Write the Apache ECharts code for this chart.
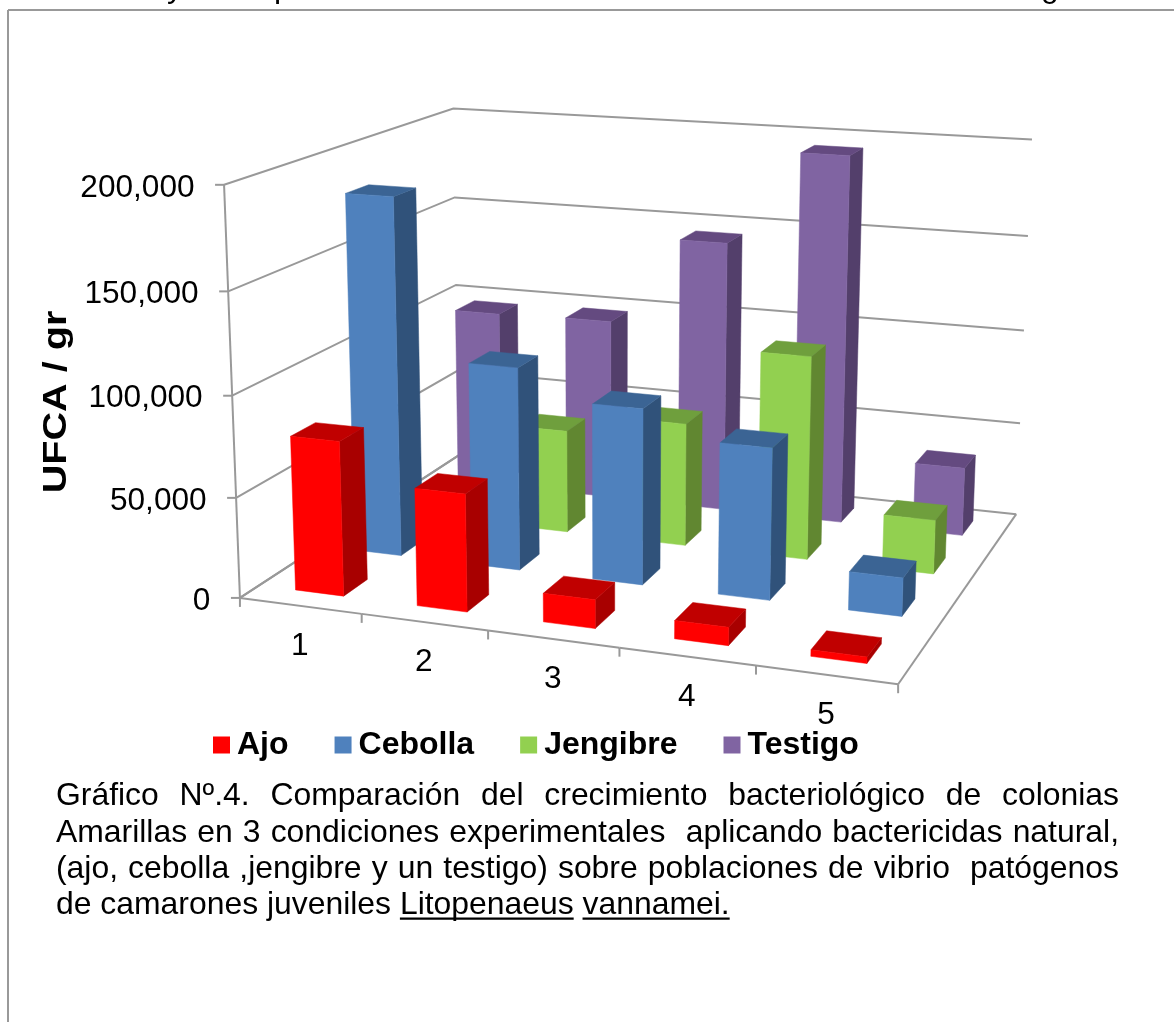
<!DOCTYPE html>
<html lang="es">
<head>
<meta charset="utf-8">
<title>Gráfico Nº.4</title>
<style>
  html, body { margin: 0; padding: 0; background: #fff; }
  #chart { width: 1174px; height: 1022px; }
</style>
<script src="https://cdn.jsdelivr.net/npm/echarts@6/dist/echarts.min.js"></script>
</head>
<body>
<div id="chart"></div>
<script>
// Chart data
const categories = ['1', '2', '3', '4', '5'];
const valueTicks = [0, 50000, 100000, 150000, 200000];
const ajo      = [77000, 58000, 14000, 8800, 3100];
const cebolla  = [183000, 103000, 88500, 75500, 19000];
const jengibre = [0, 54000, 64000, 104500, 27500];
const testigo  = [96500, 97500, 144500, 194000, 36000];

const seriesNames = ['Ajo', 'Cebolla', 'Jengibre', 'Testigo'];
const seriesValues = [ajo, cebolla, jengibre, testigo];
const faceColors = [
  { front: '#FF0000', top: '#C00000', side: '#A80000' },
  { front: '#4F81BD', top: '#3B6494', side: '#30527A' },
  { front: '#92D050', top: '#6F9F3D', side: '#618731' },
  { front: '#8064A2', top: '#644A80', side: '#533F6B' }
];

const FONT = '"Liberation Sans", Arial, sans-serif';
const LINE = '#999999';
const LINE_W = 2;
const TICK_FONT = '31.6px ' + FONT;

// Camera calibration: box corners (width, depth, height in 0..1) and where they land on the page
const cameraAnchors = [
  [0, 0, 0, 240.7, 597.3], [1, 0, 0, 899, 683.5], [1, 1, 0, 1016, 514], [0, 1, 0, 458.5, 455],
  [0, 0, .25, 235, 497.3], [0, 0, .5, 232.3, 395.7], [0, 0, .75, 228.5, 291.7], [0, 0, 1, 224, 184.5],
  [0, 1, .5, 456, 285.3], [0, 1, .75, 454.6, 197.7], [0, 1, 1, 453.5, 108],
  [1, 1, .25, 1020.7, 423], [1, 1, .5, 1024, 330.7], [1, 1, .75, 1027.5, 236], [1, 1, 1, 1032, 139.7],
  [.2, 0, 0, 362.3, 615], [.4, 0, 0, 488, 631], [.6, 0, 0, 619, 648], [.8, 0, 0, 755, 665.5]
];

// Least-squares fit of a projective camera (11 parameters)
function solveCamera(anchors) {
  const n = 11;
  const A = Array.from({ length: n }, () => new Array(n + 1).fill(0));
  const add = (row, rhs) => {
    for (let i = 0; i < n; i++) {
      for (let j = 0; j < n; j++) A[i][j] += row[i] * row[j];
      A[i][n] += row[i] * rhs;
    }
  };
  anchors.forEach(([x, y, z, u, v]) => {
    add([x, y, z, 1, 0, 0, 0, 0, -u * x, -u * y, -u * z], u);
    add([0, 0, 0, 0, x, y, z, 1, -v * x, -v * y, -v * z], v);
  });
  for (let i = 0; i < n; i++) {
    let p = i;
    for (let k = i + 1; k < n; k++) if (Math.abs(A[k][i]) > Math.abs(A[p][i])) p = k;
    [A[i], A[p]] = [A[p], A[i]];
    for (let k = 0; k < n; k++) {
      if (k === i) continue;
      const f = A[k][i] / A[i][i];
      for (let j = i; j <= n; j++) A[k][j] -= f * A[i][j];
    }
  }
  return A.map((r, i) => r[n] / r[i]);
}
const cam = solveCamera(cameraAnchors);
function project(x, y, z) {
  const w = cam[8] * x + cam[9] * y + cam[10] * z + 1;
  return [
    (cam[0] * x + cam[1] * y + cam[2] * z + cam[3]) / w,
    (cam[4] * x + cam[5] * y + cam[6] * z + cam[7]) / w
  ];
}

// Reads a (category position, value) pair through the hidden cartesian axes
function boxCoords(params, api, catPos, value) {
  const p = api.coord([catPos, value]);
  const r = params.coordSys;
  return [(p[0] - r.x) / r.width, (r.y + r.height - p[1]) / r.height];
}

const BAR_SPAN = 0.4;      // bar width as a share of its cell
const BAR_LEFT = 0.305;    // bar start inside its cell
const ROW_LEAD = 0.3;      // bar start inside its depth row
const ROWS = seriesNames.length;

function renderBar(rowIndex, colors) {
  return function (params, api) {
    const cat = api.value(0);
    const val = api.value(1);
    if (!val) return { type: 'group', children: [] };
    const [x0, z0] = boxCoords(params, api, cat + BAR_LEFT, 0);
    const [x1, z1] = boxCoords(params, api, cat + BAR_LEFT + BAR_SPAN, val);
    const y0 = (rowIndex + ROW_LEAD) / ROWS;
    const y1 = (rowIndex + ROW_LEAD + BAR_SPAN) / ROWS;
    const face = (pts, fill) => ({
      type: 'polygon', shape: { points: pts.map(q => project(q[0], q[1], q[2])) },
      style: { fill: fill, stroke: fill, lineWidth: 0.5 }, silent: true
    });
    return {
      type: 'group',
      children: [
        face([[x1, y0, z0], [x1, y1, z0], [x1, y1, z1], [x1, y0, z1]], colors.side),
        face([[x0, y0, z1], [x1, y0, z1], [x1, y1, z1], [x0, y1, z1]], colors.top),
        face([[x0, y0, z0], [x1, y0, z0], [x1, y0, z1], [x0, y0, z1]], colors.front)
      ]
    };
  };
}

function renderGridLine(params, api) {
  const val = api.value(1);
  const z = boxCoords(params, api, 0, val)[1];
  const a = project(0, 0, z), b = project(0, 1, z), c = project(1, 1, z);
  const lineStyle = { stroke: LINE, lineWidth: LINE_W, fill: null };
  const children = [
    { type: 'polyline', shape: { points: [a, b, c] }, style: lineStyle, silent: true },
    { type: 'line', shape: { x1: a[0] - 9, y1: a[1], x2: a[0], y2: a[1] }, style: lineStyle, silent: true },
    {
      type: 'text', silent: true,
      style: {
        text: val.toLocaleString('en-US'), x: a[0] - 29.5, y: a[1] + 3,
        align: 'right', verticalAlign: 'middle', fill: '#000',
        font: TICK_FONT
      }
    }
  ];
  return { type: 'group', children: children };
}

function renderCategoryAxis(params, api) {
  const i = api.value(0);
  const left = boxCoords(params, api, i, 0)[0];
  const right = boxCoords(params, api, i + 1, 0)[0];
  const a = project(left, 0, 0), b = project(right, 0, 0);
  const d = project(right, 1, 0);
  const lineStyle = { stroke: LINE, lineWidth: LINE_W, fill: null };
  const children = [
    { type: 'line', shape: { x1: a[0], y1: a[1], x2: b[0], y2: b[1] }, style: lineStyle, silent: true },
    { type: 'line', shape: { x1: b[0], y1: b[1], x2: b[0], y2: b[1] + 9 }, style: lineStyle, silent: true },
    {
      type: 'text', silent: true,
      style: {
        text: categories[i], x: (a[0] + b[0]) / 2 - 1, y: (a[1] + b[1]) / 2 + 40.5,
        align: 'center', verticalAlign: 'middle', fill: '#000', font: TICK_FONT
      }
    }
  ];
  if (i === 0) {
    const o = project(0, 1, 0);
    children.push({ type: 'line', shape: { x1: a[0], y1: a[1], x2: o[0], y2: o[1] }, style: lineStyle, silent: true });
    children.push({ type: 'line', shape: { x1: a[0], y1: a[1], x2: a[0], y2: a[1] + 9 }, style: lineStyle, silent: true });
    const t = project(0, 0, 1);
    children.push({ type: 'line', shape: { x1: a[0], y1: a[1], x2: t[0], y2: t[1] }, style: lineStyle, silent: true });
  }
  if (i === categories.length - 1) {
    children.push({ type: 'line', shape: { x1: b[0], y1: b[1], x2: d[0], y2: d[1] }, style: lineStyle, silent: true });
  }
  return { type: 'group', children: children };
}

// Caption, set justified to the block width
const captionLines = [
  { words: ['Gráfico', 'Nº.4.', 'Comparación', 'del', 'crecimiento', 'bacteriológico', 'de', 'colonias'], justify: true },
  { words: ['Amarillas', 'en', '3', 'condiciones', 'experimentales', '', 'aplicando', 'bactericidas', 'natural,'], justify: true },
  { words: ['(ajo,', 'cebolla', ',jengibre', 'y', 'un', 'testigo)', 'sobre', 'poblaciones', 'de', 'vibrio', '', 'patógenos'], justify: true },
  { words: ['de', 'camarones', 'juveniles', 'Litopenaeus', 'vannamei.'], justify: false, underlineFrom: 3 }
];
const CAPTION_SIZE = 31.9;
const CAPTION_FONT = CAPTION_SIZE + 'px ' + FONT;
const ASCENT = 0.77 * CAPTION_SIZE;   // distance from a text box top to its baseline

function captionGraphics() {
  const ctx = document.createElement('canvas').getContext('2d');
  ctx.font = CAPTION_FONT;
  const left = 56, right = 1119, firstBaseline = 805, leading = 36.4;
  const out = [];
  const spaceW = ctx.measureText(' ').width;
  captionLines.forEach((line, li) => {
    const total = line.words.reduce((s, w) => s + ctx.measureText(w).width, 0);
    const gaps = line.words.length - 1;
    const gap = line.justify ? (right - left - total) / gaps : spaceW;
    const base = firstBaseline + li * leading;
    let x = left;
    line.words.forEach((w, wi) => {
      const width = ctx.measureText(w).width;
      if (w) {
        out.push({
          type: 'text', x: x, y: base - ASCENT, silent: true,
          style: { text: w, font: CAPTION_FONT, fill: '#000', verticalAlign: 'top' }
        });
        if (line.underlineFrom !== undefined && wi >= line.underlineFrom) {
          out.push({
            type: 'line', silent: true,
            shape: { x1: x, y1: base + 4.5, x2: x + width, y2: base + 4.5 },
            style: { stroke: '#000', lineWidth: 2.2 }
          });
        }
      }
      x += width + gap;
    });
  });
  return out;
}

const chart = echarts.init(document.getElementById('chart'), null, { renderer: 'canvas' });

const barSeries = seriesNames.map((name, row) => ({
  name: name,
  type: 'custom',
  coordinateSystem: 'cartesian2d',
  clip: false,
  z: 10 + (ROWS - row),
  itemStyle: { color: faceColors[row].front },
  encode: { x: 0, y: 1 },
  data: seriesValues[row].map((v, i) => [i, v]),
  renderItem: renderBar(row, faceColors[row])
}));

const runningGlyph = (text, x) => ({
  type: 'text', silent: true, x: x, y: -3 - ASCENT,
  style: { text: text, font: CAPTION_FONT, fill: '#000', verticalAlign: 'top' }
});

chart.setOption({
  animation: false,
  backgroundColor: '#fff',
  grid: { left: 240, right: 275, top: 185, bottom: 425, show: false },
  xAxis: { type: 'value', min: 0, max: categories.length, interval: 1, show: false },
  yAxis: { type: 'value', min: 0, max: 200000, interval: 50000, show: false },
  legend: {
    left: 208, top: 724, itemWidth: 17, itemHeight: 17, itemGap: 46,
    icon: 'rect', selectedMode: false,
    data: seriesNames,
    textStyle: { fontFamily: FONT, fontWeight: 'bold', fontSize: 32, color: '#000', padding: [0, 0, 0, 2] }
  },
  graphic: [
    // page frame
    { type: 'line', silent: true, shape: { x1: 8, y1: 10, x2: 1174, y2: 10 }, style: { stroke: '#999', lineWidth: 2 } },
    { type: 'line', silent: true, shape: { x1: 8, y1: 10, x2: 8, y2: 1022 }, style: { stroke: '#999', lineWidth: 2 } },
    // descenders of the running text above the frame
    runningGlyph('y', 167), runningGlyph('p', 274), runningGlyph('g', 1041),
    // value-axis title
    {
      type: 'text', silent: true, x: 57, y: 402, rotation: Math.PI / 2, scaleX: 1.2,
      style: { text: 'UFCA / gr', font: 'bold 33px ' + FONT, fill: '#000', align: 'center', verticalAlign: 'middle' }
    }
  ].concat(captionGraphics()),
  series: [
    {
      type: 'custom', name: 'rejilla', coordinateSystem: 'cartesian2d', clip: false, z: 2,
      encode: { x: 0, y: 1 }, silent: true,
      data: valueTicks.map(v => [0, v]),
      renderItem: renderGridLine
    },
    {
      type: 'custom', name: 'categorías', coordinateSystem: 'cartesian2d', clip: false, z: 2,
      encode: { x: 0, y: 1 }, silent: true,
      data: categories.map((c, i) => [i, 0]),
      renderItem: renderCategoryAxis
    }
  ].concat(barSeries)
});
</script>
</body>
</html>
